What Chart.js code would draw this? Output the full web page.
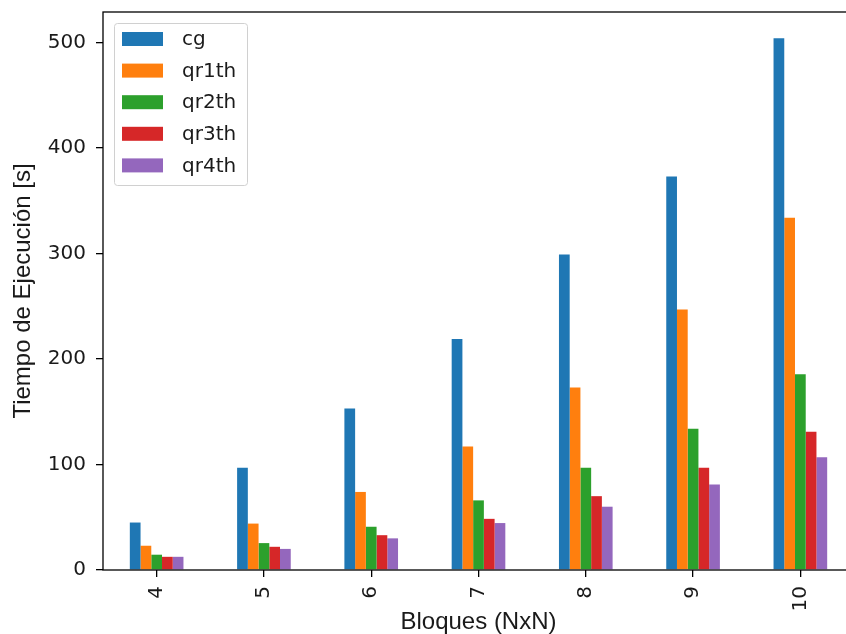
<!DOCTYPE html>
<html>
<head>
<meta charset="utf-8">
<script src="https://cdn.jsdelivr.net/npm/chart.js@4"></script>
<style>
  body { margin: 0; overflow: hidden; background: #fff; }
  canvas { position: absolute; left: 0; top: 0; }
</style>
</head>
<body>
<canvas id="myChart" width="854" height="634"></canvas>
<script>
// block sizes (NxN)
let categories = ["4", "5", "6", "7", "8", "9", "10"];

// execution time in seconds
let cg    = [45, 97, 153, 219, 299, 373, 504];
let qr1th = [23, 44, 74, 117, 173, 247, 334];
let qr2th = [14.5, 25.5, 41, 66, 97, 134, 185.5];
let qr3th = [12.5, 22, 33, 48.5, 70, 97, 131];
let qr4th = [12.5, 20, 30, 44.5, 60, 81, 107];

let seriesNames = ["cg", "qr1th", "qr2th", "qr3th", "qr4th"];
let seriesData = [cg, qr1th, qr2th, qr3th, qr4th];
let colors = ["#1f77b4", "#ff7f0e", "#2ca02c", "#d62728", "#9467bd"];

let yTicks = [0, 100, 200, 300, 400, 500];
let yMax = 529;

let tickFont = "'DejaVu Sans', sans-serif";
let titleFont = "'Liberation Sans', Arial, sans-serif";
let textColor = "#1a1a1a";

// matplotlib style frame round the plot area
const framePlugin = {
  id: "frame",
  afterDraw(chart) {
    let ctx = chart.ctx;
    let a = chart.chartArea;
    ctx.save();
    ctx.strokeStyle = "#000";
    ctx.lineWidth = 1.3;
    ctx.strokeRect(a.left, a.top, a.right - a.left, a.bottom - a.top);
    ctx.restore();
  }
};

// legend in the upper left corner of the axes
const legendPlugin = {
  id: "innerLegend",
  afterDraw(chart) {
    let ctx = chart.ctx;
    let a = chart.chartArea;
    let x = a.left + 11, y = a.top + 11;
    let w = 133, h = 162;
    ctx.save();
    ctx.fillStyle = "rgba(255,255,255,0.8)";
    ctx.strokeStyle = "#d0d0d0";
    ctx.lineWidth = 1;
    ctx.beginPath();
    ctx.roundRect(x + 0.5, y + 0.5, w, h, 3);
    ctx.fill();
    ctx.stroke();

    ctx.font = "20px " + tickFont;
    ctx.textBaseline = "middle";
    chart.data.datasets.forEach((ds, i) => {
      let cy = y + 16 + i * 31.6;
      ctx.fillStyle = ds.backgroundColor;
      ctx.fillRect(x + 8, cy - 7, 41, 14);
      ctx.fillStyle = textColor;
      ctx.fillText(ds.label, x + 68, cy + 1);
    });
    ctx.restore();
  }
};

let ctx = document.getElementById("myChart").getContext("2d");

let myChart = new Chart(ctx, {
  type: "bar",
  data: {
    labels: categories,
    datasets: seriesNames.map((name, i) => ({
      label: name,
      data: seriesData[i],
      backgroundColor: colors[i],
      borderWidth: 0,
      categoryPercentage: 0.5,
      barPercentage: 1.0
    }))
  },
  options: {
    responsive: false,
    animation: false,
    layout: { padding: { top: 12, left: 0, right: 0, bottom: 0 } },
    plugins: {
      legend: { display: false },
      tooltip: { enabled: false }
    },
    scales: {
      x: {
        offset: true,
        border: { display: false },
        grid: {
          offset: false,
          drawOnChartArea: false,
          drawTicks: true,
          tickLength: 7,
          color: "#000",
          lineWidth: 1.3
        },
        ticks: {
          minRotation: 90,
          maxRotation: 90,
          padding: 9,
          color: textColor,
          font: { family: tickFont, size: 20 }
        },
        title: {
          display: true,
          text: "Bloques (NxN)",
          color: textColor,
          font: { family: titleFont, size: 24, lineHeight: 1 },
          padding: { top: 0, bottom: 0 }
        },
        afterFit(scale) {
          scale.height = 64;
          scale.paddingLeft = 0;
          scale.paddingRight = 0;
        }
      },
      y: {
        min: 0,
        max: yMax,
        border: { display: false },
        grid: {
          drawOnChartArea: false,
          drawTicks: true,
          tickLength: 7,
          color: "#000",
          lineWidth: 1.3
        },
        ticks: {
          padding: 10,
          color: textColor,
          font: { family: tickFont, size: 20 }
        },
        title: {
          display: true,
          text: "Tiempo de Ejecución [s]",
          color: textColor,
          font: { family: titleFont, size: 24, lineHeight: 1 },
          padding: { top: 11, bottom: 0 }
        },
        afterBuildTicks(scale) {
          scale.ticks = yTicks.map(v => ({ value: v }));
        },
        afterFit(scale) {
          scale.width = 103;
          scale.paddingTop = 0;
          scale.paddingBottom = 0;
        }
      }
    }
  },
  plugins: [framePlugin, legendPlugin]
});
</script>
</body>
</html>
